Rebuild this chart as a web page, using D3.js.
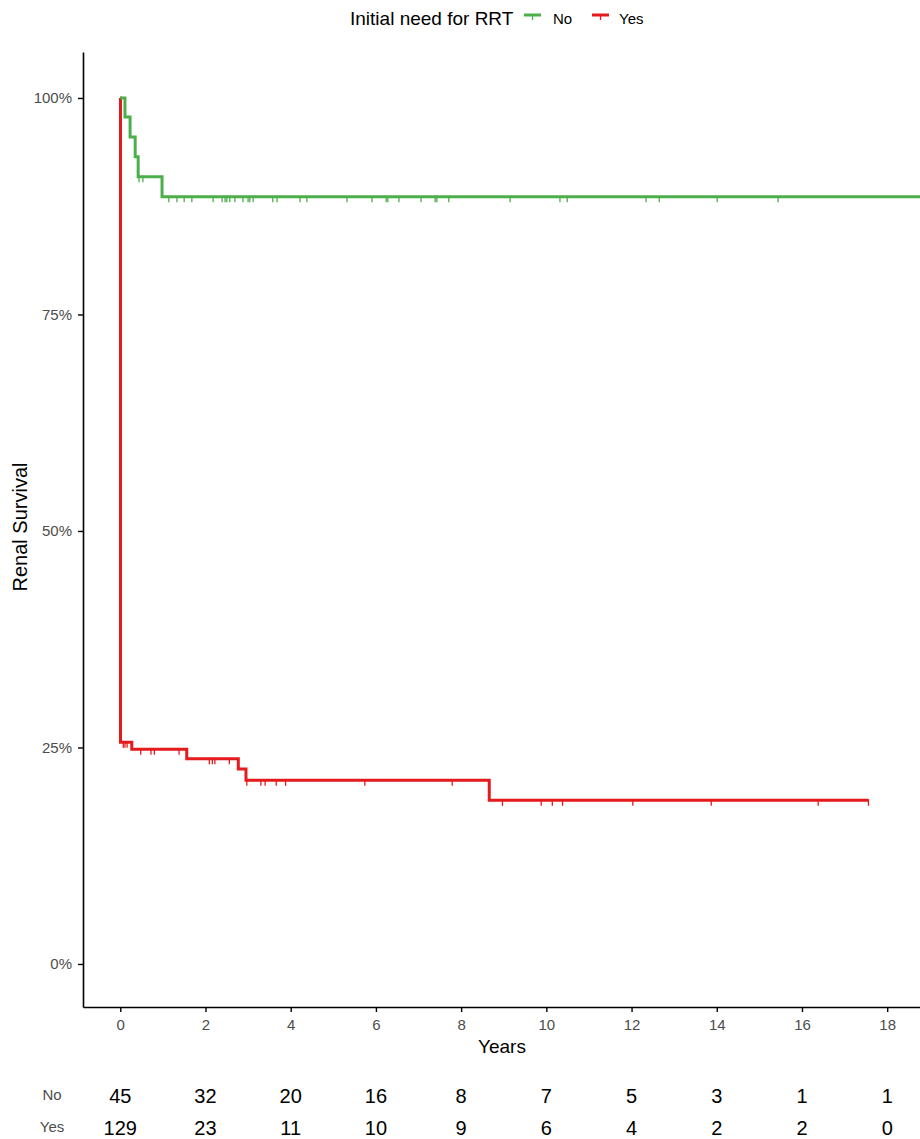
<!DOCTYPE html>
<html>
<head>
<meta charset="utf-8">
<script src="https://cdn.jsdelivr.net/npm/d3@7"></script>
<style>
body { margin: 0; background: #fff; }
text { font-family: "Liberation Sans", Arial, sans-serif; }
</style>
</head>
<body>
<svg id="chart" width="920" height="1139"></svg>
<script>
// survival steps (time in years, survival fraction)
var no_times = [0, 0.11, 0.23, 0.35, 0.42, 0.98]
var no_surv  = [1, 0.978, 0.955, 0.932, 0.909, 0.886]
var no_end   = 19.5
var no_censor = [0.44, 0.53, 1.14, 1.33, 1.50, 1.68, 2.18, 2.39, 2.46, 2.50, 2.57, 2.69, 2.88, 3.00,
                 3.04, 3.12, 3.58, 3.68, 4.22, 4.38, 5.32, 5.91, 6.24, 6.28, 6.54, 7.06, 7.39, 7.43,
                 7.71, 9.15, 10.32, 10.49, 12.34, 12.65, 14.01, 15.44]

var yes_times = [0, 0.005, 0.27, 1.56, 2.77, 2.95, 8.66]
var yes_surv  = [1, 0.256, 0.248, 0.237, 0.225, 0.212, 0.189]
var yes_end   = 17.56
var yes_censor = [0.07, 0.11, 0.16, 0.48, 0.72, 0.80, 1.38, 2.09, 2.16, 2.22, 2.56, 2.97, 3.30, 3.40,
                  3.66, 3.88, 5.74, 7.79, 8.97, 9.88, 10.14, 10.38, 12.03, 13.87, 16.38, 17.56]

var risk_times = [0, 2, 4, 6, 8, 10, 12, 14, 16, 18]
var risk_no    = [45, 32, 20, 16, 8, 7, 5, 3, 1, 1]
var risk_yes   = [129, 23, 11, 10, 9, 6, 4, 2, 2, 0]

var y_ticks = [0, 0.25, 0.5, 0.75, 1]

var green = "#4DAF4A", red = "#E41A1C"

var svg = d3.select("#chart")
var x_scale = d3.scaleLinear().domain([-0.875, 18.77]).range([83, 920])
var y_scale = d3.scaleLinear().domain([-0.0497, 1.0531]).range([1007, 52])

function surv_at (times, surv, t) {
	var s = surv[0]
	for (var i = 0; i < times.length; i++) if (times[i] <= t) s = surv[i]
	return s
}

function step_points (times, surv, end) {
	var pts = []
	for (var i = 0; i < times.length; i++) {
		if (i > 0) pts.push([times[i], surv[i - 1]])
		pts.push([times[i], surv[i]])
	}
	pts.push([end, surv[surv.length - 1]])
	return pts
}

var line = d3.line().x(d=>x_scale(d[0])).y(d=>y_scale(d[1]))

svg.append("defs").append("clipPath").attr("id", "clip")
   .append("rect").attr("x", 83).attr("y", 40).attr("width", 837).attr("height", 967)

var plot = svg.append("g").attr("clip-path", "url(#clip)")

var groups = [
	{times: yes_times, surv: yes_surv, end: yes_end, censor: yes_censor, color: red},
	{times: no_times, surv: no_surv, end: no_end, censor: no_censor, color: green}
]

groups.forEach(g=>{
	plot.selectAll(null)
	    .data(g.censor)
	    .enter()
	    .append("line")
	    .attr("x1", d=>x_scale(d))
	    .attr("x2", d=>x_scale(d))
	    .attr("y1", d=>y_scale(surv_at(g.times, g.surv, d)) - 1)
	    .attr("y2", d=>y_scale(surv_at(g.times, g.surv, d)) + 5.5)
	    .style("stroke", g.color)
	    .style("stroke-width", 1.3)
	plot.append("path")
	    .attr("d", line(step_points(g.times, g.surv, g.end)))
	    .style("fill", "none")
	    .style("stroke", g.color)
	    .style("stroke-width", 3)
})

// axes
var y_axis = svg.append("g").attr("transform", "translate(83,0)")
                .call(d3.axisLeft(y_scale).tickValues(y_ticks).tickFormat(d=>Math.round(d * 100) + "%")
                        .tickSize(5).tickSizeOuter(0).tickPadding(6))
var x_axis = svg.append("g").attr("transform", "translate(0,1007)")
                .call(d3.axisBottom(x_scale).tickValues(risk_times).tickSize(5).tickSizeOuter(0).tickPadding(7))
;[y_axis, x_axis].forEach(a=>{
	a.select(".domain").style("stroke", "#000").style("stroke-width", 1.6)
	a.selectAll(".tick line").style("stroke", "#000").style("stroke-width", 1.4)
	a.selectAll(".tick text").style("font-size", "15px").style("fill", "#4d4d4d")
	  .style("font-family", "Liberation Sans, Arial, sans-serif")
})

svg.append("text")
   .attr("transform", "translate(27,527) rotate(-90)")
   .attr("text-anchor", "middle")
   .style("font-size", "20px").style("fill", "#000")
   .text("Renal Survival")

svg.append("text")
   .attr("x", 502).attr("y", 1053)
   .attr("text-anchor", "middle")
   .style("font-size", "19px").style("fill", "#000")
   .text("Years")

// legend
var legend = svg.append("g")
legend.append("text").attr("x", 350).attr("y", 25)
      .style("font-size", "19px").style("fill", "#000").text("Initial need for RRT")
var legend_items = [{label: "No", color: green, x: 524, tx: 553}, {label: "Yes", color: red, x: 592, tx: 619}]
legend_items.forEach(d=>{
	legend.append("line").attr("x1", d.x).attr("x2", d.x + 17).attr("y1", 15).attr("y2", 15)
	      .style("stroke", d.color).style("stroke-width", 3)
	legend.append("line").attr("x1", d.x + 8.5).attr("x2", d.x + 8.5).attr("y1", 14).attr("y2", 20)
	      .style("stroke", d.color).style("stroke-width", 1.3)
	legend.append("text").attr("x", d.tx).attr("y", 24)
	      .style("font-size", "15px").style("fill", "#000").text(d.label)
})

// risk table
var risk_rows = [{label: "No", values: risk_no, y: 1103, ly: 1100}, {label: "Yes", values: risk_yes, y: 1135, ly: 1132}]
risk_rows.forEach(r=>{
	svg.append("text").attr("x", 52).attr("y", r.ly).attr("text-anchor", "middle")
	   .style("font-size", "15px").style("fill", "#4d4d4d").text(r.label)
	svg.selectAll(null)
	   .data(risk_times)
	   .enter()
	   .append("text")
	   .attr("x", d=>x_scale(d))
	   .attr("y", r.y)
	   .attr("text-anchor", "middle")
	   .style("font-size", "20px").style("fill", "#000")
	   .text((d, i)=>r.values[i])
})
</script>
</body>
</html>
